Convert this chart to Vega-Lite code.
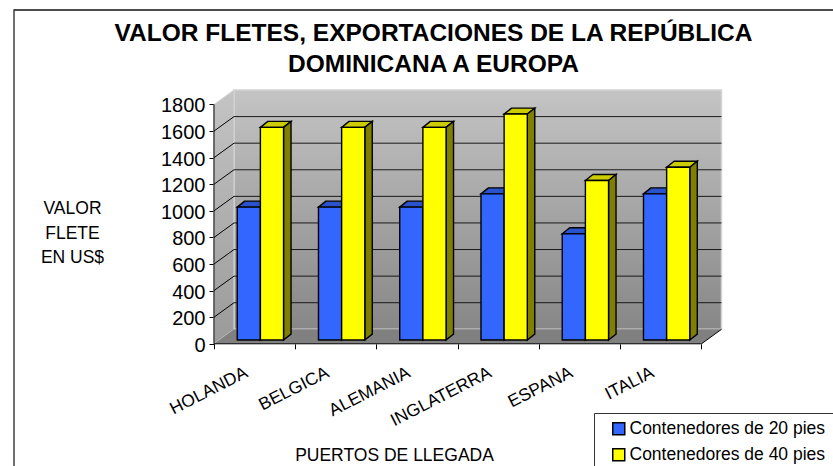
{
"$schema":"https://vega.github.io/schema/vega-lite/v6.json",
"width":822,"height":459,
"autosize":{"type":"none"},
"padding":{"left":14,"top":10,"right":-3,"bottom":-3},
"background":"white",
"config":{"font":"Liberation Sans","view":{"stroke":"#404040","strokeWidth":1.5,"fill":"white"}},
"title":{"text":["VALOR FLETES, EXPORTACIONES DE LA REPÚBLICA","DOMINICANA A EUROPA"],"anchor":"middle","frame":"group","fontSize":24.5,"fontWeight":"bold","font":"Liberation Sans","color":"black","lineHeight":31,"offset":-68,"dx":8.5},
"params":[{"name":"dx","value":0.246},{"name":"dy","value":109},{"name":"bdx","value":0.092},{"name":"bdy","value":45},{"name":"base","value":28},{"name":"bw","value":0.285}],
"data":{"values":[
{"puerto":"HOLANDA","serie":"Contenedores de 20 pies","valor":1000},
{"puerto":"HOLANDA","serie":"Contenedores de 40 pies","valor":1600},
{"puerto":"BELGICA","serie":"Contenedores de 20 pies","valor":1000},
{"puerto":"BELGICA","serie":"Contenedores de 40 pies","valor":1600},
{"puerto":"ALEMANIA","serie":"Contenedores de 20 pies","valor":1000},
{"puerto":"ALEMANIA","serie":"Contenedores de 40 pies","valor":1600},
{"puerto":"INGLATERRA","serie":"Contenedores de 20 pies","valor":1100},
{"puerto":"INGLATERRA","serie":"Contenedores de 40 pies","valor":1700},
{"puerto":"ESPANA","serie":"Contenedores de 20 pies","valor":800},
{"puerto":"ESPANA","serie":"Contenedores de 40 pies","valor":1200},
{"puerto":"ITALIA","serie":"Contenedores de 20 pies","valor":1100},
{"puerto":"ITALIA","serie":"Contenedores de 40 pies","valor":1300}
]},
"transform":[
{"calculate":"indexof(['HOLANDA','BELGICA','ALEMANIA','INGLATERRA','ESPANA','ITALIA'],datum.puerto)","as":"idx"},
{"calculate":"datum.idx+0.286+(datum.serie=='Contenedores de 40 pies'?bw:0)","as":"x0"},
{"calculate":"datum.x0+bw","as":"x1"},
{"calculate":"datum.valor+base","as":"techo"},
{"calculate":"datum.idx+0.5","as":"centro"},
{"calculate":"datum.puerto+datum.serie","as":"barra"},
{"calculate":"[0,1]","as":"k"}
],
"layer":[
{"data":{"values":[{"a":0,"b":6,"v0":0,"v1":1800}]},
 "transform":[{"calculate":"datum.a+dx","as":"xa"},{"calculate":"datum.b+dx","as":"xb"},{"calculate":"datum.v0+dy","as":"ya"},{"calculate":"datum.v1+dy","as":"yb"}],
 "mark":{"type":"rect","stroke":"#d4d4d4","strokeWidth":1.5,"fill":{"gradient":"linear","x1":0,"y1":0,"x2":0,"y2":1,"stops":[{"offset":0,"color":"#c4c4c4"},{"offset":1,"color":"#878787"}]}},
 "encoding":{
  "x":{"field":"xa","type":"quantitative","scale":{"domain":[-2.4615,7.6554],"nice":false,"zero":false},
   "axis":{"values":[0,1,2,3,4,5,6],"labels":false,"grid":false,"domain":false,"ticks":true,"tickSize":5,"tickColor":"black","tickWidth":1,"offset":-125.2,
    "title":"PUERTOS DE LLEGADA","titleFontSize":17.5,"titleFontWeight":"normal","titleColor":"black","titleX":380,"titleY":117,"titleBaseline":"alphabetic","titleAlign":"center"}},
  "x2":{"field":"xb"},
  "y":{"field":"ya","type":"quantitative","scale":{"domain":[-941.8,2510.8],"nice":false,"zero":false},
   "axis":{"values":[0,200,400,600,800,1000,1200,1400,1600,1800],"format":"d","grid":false,"domain":false,"tickSize":5,"tickColor":"black","tickWidth":1,"offset":-200,"labelFontSize":20,"labelColor":"black","labelPadding":4,"labelBaseline":"middle","labelOffset":1.5,
    "title":["VALOR","FLETE","EN US$"],"titleFontSize":17.5,"titleFontWeight":"normal","titleColor":"black","titleAngle":0,"titleAlign":"center","titleBaseline":"alphabetic","titleLineHeight":24.5,"titleX":-142,"titleY":203.5}},
  "y2":{"field":"yb"}
 }},
{"data":{"values":[{"k":0},{"k":1}]},
 "transform":[{"calculate":"datum.k*dx","as":"xk"},{"calculate":"datum.k*dy","as":"ya"},{"calculate":"1800+datum.k*dy","as":"yb"}],
 "mark":{"type":"area","stroke":"#d4d4d4","strokeWidth":1,"fill":{"gradient":"linear","x1":0,"y1":0,"x2":0,"y2":1,"stops":[{"offset":0,"color":"#c4c4c4"},{"offset":1,"color":"#9a9a9a"}]}},
 "encoding":{"x":{"field":"xk","type":"quantitative"},"y":{"field":"ya","type":"quantitative","stack":null},"y2":{"field":"yb"}}},
{"data":{"values":[{"k":0},{"k":1}]},
 "transform":[{"calculate":"datum.k*dx","as":"xa"},{"calculate":"6+datum.k*dx","as":"xb"},{"calculate":"datum.k*dy","as":"ya"}],
 "mark":{"type":"area","orient":"horizontal","fill":"#808080"},
 "encoding":{"y":{"field":"ya","type":"quantitative"},"x":{"field":"xa","type":"quantitative","stack":null},"x2":{"field":"xb"}}},
{"data":{"values":[{"v":200},{"v":400},{"v":600},{"v":800},{"v":1000},{"v":1200},{"v":1400},{"v":1600}]},
 "transform":[{"calculate":"dx","as":"xa"},{"calculate":"6+dx","as":"xb"},{"calculate":"datum.v+dy","as":"ya"}],
 "mark":{"type":"rule","color":"#1a1a1a","strokeWidth":1},
 "encoding":{"x":{"field":"xa","type":"quantitative"},"x2":{"field":"xb"},"y":{"field":"ya","type":"quantitative"}}},
{"data":{"values":[{"v":200},{"v":400},{"v":600},{"v":800},{"v":1000},{"v":1200},{"v":1400},{"v":1600}]},
 "transform":[{"calculate":"0","as":"xa"},{"calculate":"dx","as":"xb"},{"calculate":"datum.v+dy","as":"ya"}],
 "mark":{"type":"rule","color":"black","strokeWidth":1},
 "encoding":{"x":{"field":"xa","type":"quantitative"},"x2":{"field":"xb"},"y":{"field":"v","type":"quantitative"},"y2":{"field":"ya"}}},
{"data":{"values":[{"a":0,"b":6,"c":0,"d":0},{"a":0,"b":0,"c":0,"d":1800},{"a":6,"b":6,"c":0,"d":0}]},
 "transform":[{"calculate":"datum.a==6?6+dx:datum.b","as":"xb"},{"calculate":"datum.a==6?dy:datum.d","as":"yb"}],
 "mark":{"type":"rule","color":"black","strokeWidth":1},
 "encoding":{"x":{"field":"a","type":"quantitative"},"x2":{"field":"xb"},"y":{"field":"c","type":"quantitative"},"y2":{"field":"yb"}}},
{"transform":[{"flatten":["k"]},{"calculate":"datum.x0+datum.k*bdx","as":"xa"},{"calculate":"datum.x1+datum.k*bdx","as":"xb"},{"calculate":"datum.techo+datum.k*bdy","as":"ya"}],
 "mark":{"type":"area","orient":"horizontal","stroke":"black","strokeWidth":1.4},
 "encoding":{"detail":{"field":"barra"},
  "fill":{"condition":{"test":"datum.serie=='Contenedores de 20 pies'","value":"#2952CC"},"value":"#CCCC00"},
  "y":{"field":"ya","type":"quantitative"},"x":{"field":"xa","type":"quantitative","stack":null},"x2":{"field":"xb"}}},
{"transform":[{"flatten":["k"]},{"calculate":"datum.x1+datum.k*bdx","as":"xa"},{"calculate":"base+datum.k*bdy","as":"ya"},{"calculate":"datum.techo+datum.k*bdy","as":"yb"}],
 "mark":{"type":"area","stroke":"black","strokeWidth":1.4},
 "encoding":{"detail":{"field":"barra"},
  "fill":{"condition":{"test":"datum.serie=='Contenedores de 20 pies'","value":"#1F3D99"},"value":"#808000"},
  "x":{"field":"xa","type":"quantitative"},"y":{"field":"ya","type":"quantitative","stack":null},"y2":{"field":"yb"}}},
{"transform":[{"calculate":"base","as":"ya"}],
 "mark":{"type":"rect","stroke":"black","strokeWidth":1.4},
 "encoding":{
  "x":{"field":"x0","type":"quantitative"},"x2":{"field":"x1"},
  "y":{"field":"ya","type":"quantitative"},"y2":{"field":"techo"},
  "fill":{"field":"serie","type":"nominal","scale":{"domain":["Contenedores de 20 pies","Contenedores de 40 pies"],"range":["#3366FF","#FFFF00"]},
   "legend":{"orient":"none","legendX":580,"legendY":403,"title":null,"fillColor":"white","strokeColor":"#333333","padding":7,"symbolType":"square","symbolSize":144,"symbolStrokeColor":"black","symbolStrokeWidth":1.5,"labelFontSize":17.5,"labelColor":"black","symbolOffset":9,"labelOffset":2,"rowPadding":7,"labelLimit":300}}
 }},
{"transform":[{"filter":"datum.serie=='Contenedores de 20 pies'"},{"calculate":"0","as":"y0"}],
 "mark":{"type":"text","angle":-27,"align":"right","baseline":"middle","fontSize":17.5,"color":"black","dx":-19.8,"dy":21.3},
 "encoding":{"x":{"field":"centro","type":"quantitative"},"y":{"field":"y0","type":"quantitative"},"text":{"field":"puerto"}}},
{"data":{"values":[{"a":-2.4615,"b":7.6554,"c":2510.8}]},
 "mark":{"type":"rule","color":"#404040","strokeWidth":1.5},
 "encoding":{"x":{"field":"a","type":"quantitative"},"x2":{"field":"b"},"y":{"field":"c","type":"quantitative"}}}
]
}
